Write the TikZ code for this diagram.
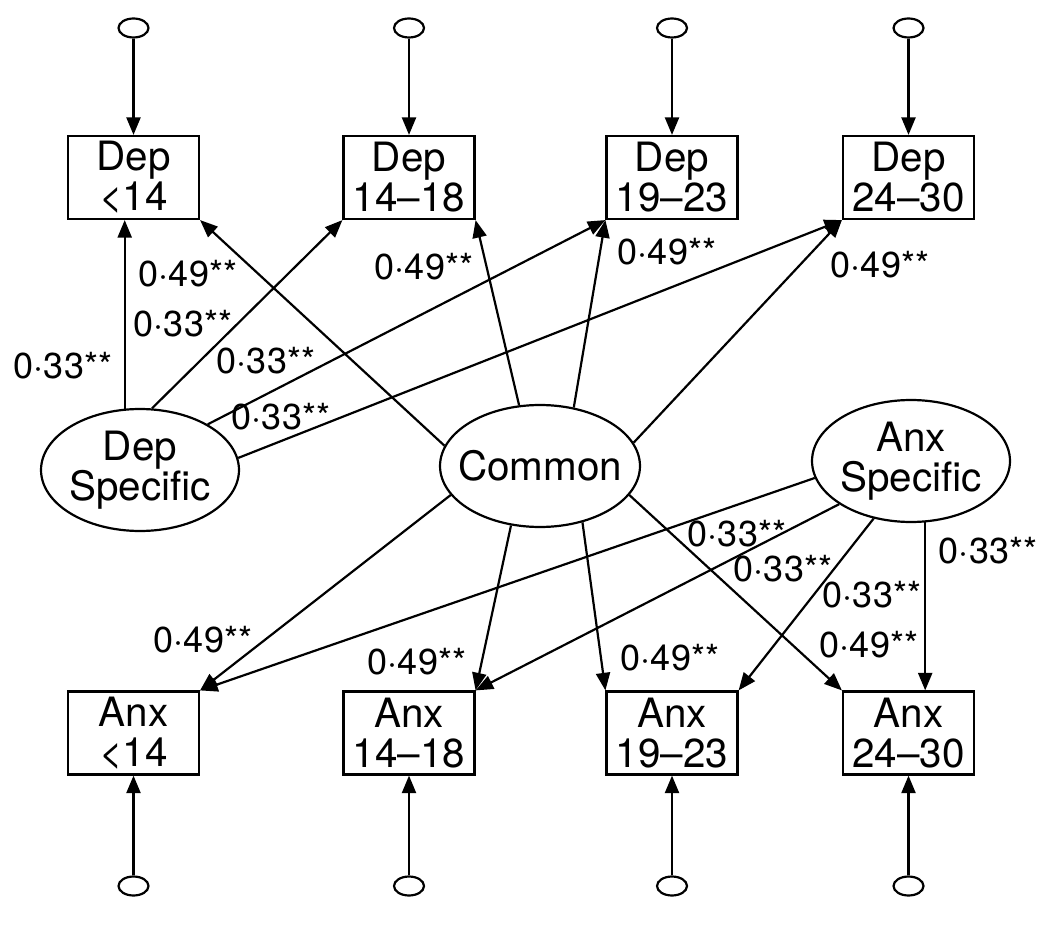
\documentclass[tikz,border=0pt]{standalone}
\usepackage{fontspec}
\setmainfont{TeX Gyre Heros}
\usetikzlibrary{arrows.meta,shapes.geometric}

\begin{document}
\begin{tikzpicture}[x=0.02cm,y=-0.02cm,line width=1.25pt,
        >={Triangle[length=10pt,width=8pt]},
        obs/.style={draw,minimum width=2.62cm,minimum height=1.66cm,inner sep=0pt,align=center,font=\fontsize{23}{22.8}\selectfont},
        lat/.style={draw,ellipse,minimum width=3.96cm,minimum height=2.44cm,inner sep=-4pt,align=center,font=\fontsize{23}{22.8}\selectfont},
        err/.style={draw,ellipse,minimum width=0.6cm,minimum height=0.38cm,inner sep=0pt},
        coef/.style={inner sep=0pt,font=\fontsize{20.5}{22}\selectfont}]
        \useasboundingbox (0,0) rectangle (1050,925);

        \node [obs] (DepLt) at (133.5,177.5) {Dep\\<14};
        \node [obs] (DepA) at (409,177.5) {Dep\\14–18};
        \node [obs] (DepB) at (672,177.5) {Dep\\19–23};
        \node [obs] (DepC) at (908.5,177.5) {Dep\\24–30};

        \node [obs] (AnxLt) at (133.5,733) {Anx\\<14};
        \node [obs] (AnxA) at (409,733) {Anx\\14–18};
        \node [obs] (AnxB) at (672,733) {Anx\\19–23};
        \node [obs] (AnxC) at (908.5,733) {Anx\\24–30};

        \node [lat] (DepSpec) at (140,470) {Dep\\Specific};
        \node [lat,minimum width=4cm,inner xsep=-12pt] (Common) at (540,466) {Common};
        \node [lat] (AnxSpec) at (911,461) {Anx\\Specific};

        \node [err] (eDepLt) at (133.5,28) {};
        \node [err] (eDepA) at (409,28) {};
        \node [err] (eDepB) at (672,28) {};
        \node [err] (eDepC) at (908.5,28) {};
        \node [err] (eAnxLt) at (133.5,886) {};
        \node [err] (eAnxA) at (409,886) {};
        \node [err] (eAnxB) at (672,886) {};
        \node [err] (eAnxC) at (908.5,886) {};

        \draw [->] (eDepLt) -- (DepLt);
        \draw [->] (eDepA) -- (DepA);
        \draw [->] (eDepB) -- (DepB);
        \draw [->] (eDepC) -- (DepC);
        \draw [->] (eAnxLt) -- (AnxLt);
        \draw [->] (eAnxA) -- (AnxA);
        \draw [->] (eAnxB) -- (AnxB);
        \draw [->] (eAnxC) -- (AnxC);

        \draw [->] (DepSpec.104) -- (DepSpec.104 |- DepLt.south);
        \draw [->] (DepSpec.79) -- (DepA.south west);
        \draw [->] (DepSpec.34) -- (DepB.south west);
        \draw [->] (DepSpec.7.5) -- (DepC.south west);

        \draw [->] (Common.168) -- (DepLt.south east);
        \draw [->] (Common.109) -- (DepA.south east);
        \draw [->] (Common.60) -- (DepB.south west);
        \draw [->] (Common.14.5) -- (DepC.south west);
        \draw [->] (Common.198.6) -- (AnxLt.north east);
        \draw [->] (Common.244) -- (AnxA.north east);
        \draw [->] (Common.307) -- (AnxB.north west);
        \draw [->] (Common.342) -- (AnxC.north west);

        \draw [->] (AnxSpec.190.4) -- (AnxLt.north east);
        \draw [->] (AnxSpec.211) -- (AnxA.north east);
        \draw [->] (AnxSpec.237) -- (AnxB.north east);
        \draw [->] (AnxSpec.283) -- (AnxSpec.283 |- AnxC.north);

        \node [coef] (DsLt) at (63,366) {0·33**};
        \node [coef] (DsA) at (183,324) {0·33**};
        \node [coef] (DsB) at (266,361) {0·33**};
        \node [coef] (DsC) at (281,417) {0·33**};
        \node [coef] (CoDLt) at (188,274) {0·49**};
        \node [coef] (CoDA) at (424,267) {0·49**};
        \node [coef] (CoDB) at (667,252) {0·49**};
        \node [coef] (CoDC) at (880,265) {0·49**};
        \node [coef] (CoALt) at (203,640) {0·49**};
        \node [coef] (CoAA) at (417,662) {0·49**};
        \node [coef] (CoAB) at (670,658) {0·49**};
        \node [coef] (CoAC) at (869,645) {0·49**};
        \node [coef] (AsLt) at (737,534) {0·33**};
        \node [coef] (AsA) at (783,569) {0·33**};
        \node [coef] (AsB) at (872,595) {0·33**};
        \node [coef] (AsC) at (988,551) {0·33**};
    \end{tikzpicture}
\end{document}
